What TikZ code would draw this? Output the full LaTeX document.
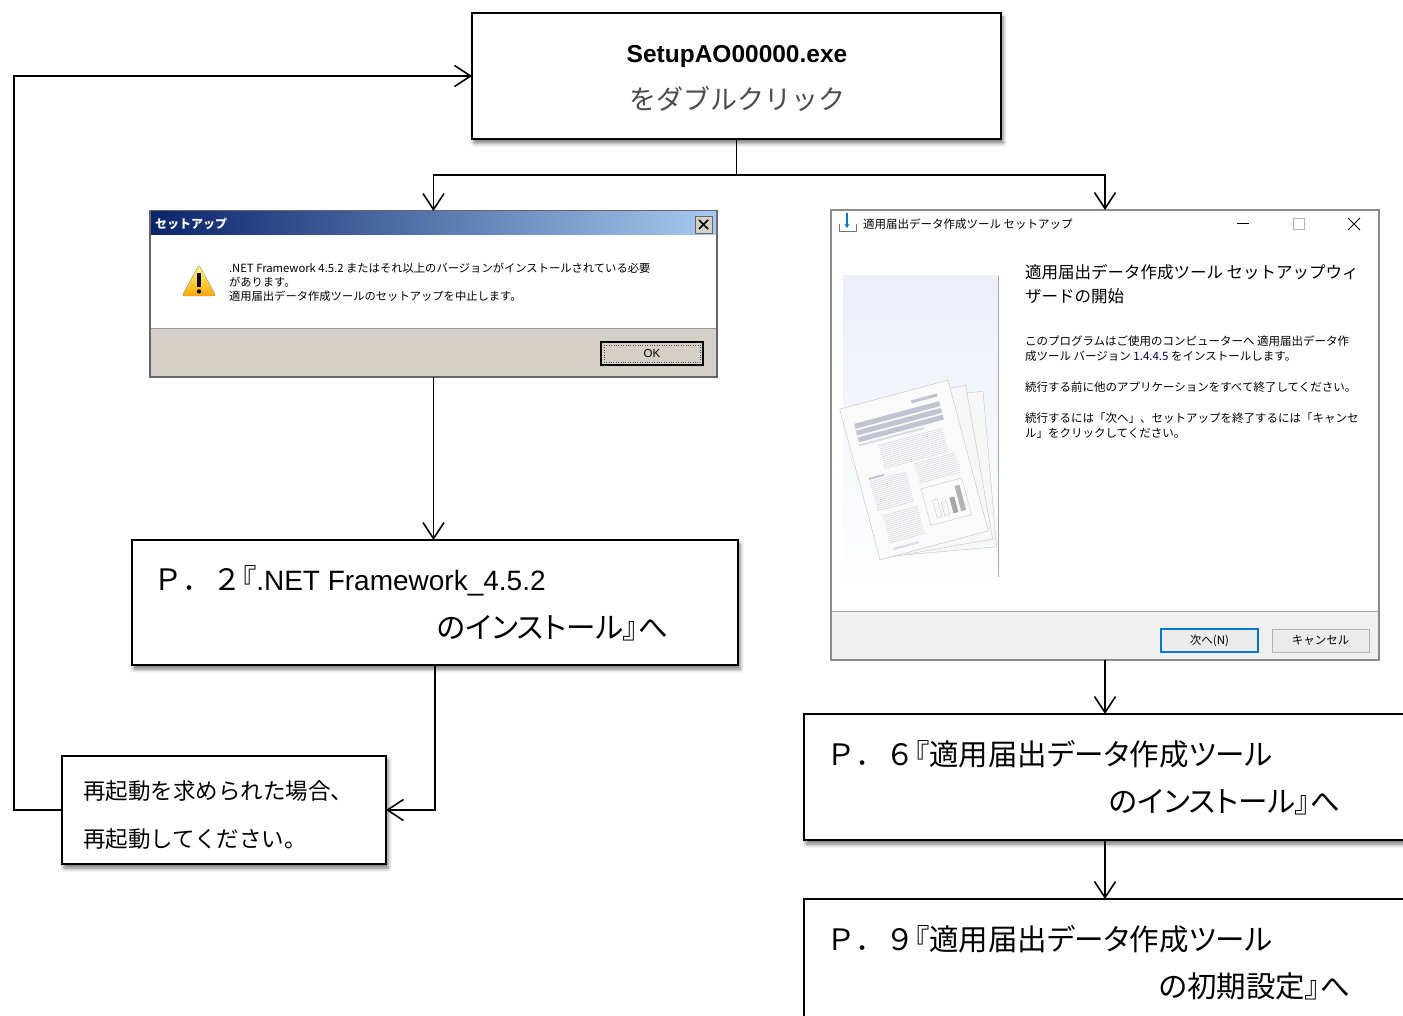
\documentclass[tikz,border=0pt]{standalone}
\usepackage{fontspec}
\setmainfont{Liberation Sans}
\newfontfamily\jp{Noto Sans CJK JP}
\newfontfamily\jpp{Noto Sans CJK JP}[RawFeature=+palt]
\usetikzlibrary{arrows.meta,shadows.blur}

\definecolor{xpblue}{HTML}{0A246A}
\definecolor{xplight}{HTML}{A6CAF0}
\definecolor{xpface}{HTML}{D4D0C8}
\definecolor{winface}{HTML}{F0F0F0}
\definecolor{winblue}{HTML}{0078D7}
\definecolor{paperline}{HTML}{D2D2DC}
\definecolor{paperbar}{HTML}{C2C2D0}
\definecolor{panel}{HTML}{ECEEF8}

% page number prefix in full width, then a tight bracket
\newcommand{\pagelead}[1]{{\jp Ｐ．#1}『}

\begin{document}
\begin{tikzpicture}[x=1pt, y=-1pt,
    every node/.style={inner sep=0pt, outer sep=0pt},
    flowbox/.style={draw, line width=1.8pt, fill=white, anchor=north west,
      blur shadow={shadow xshift=2pt, shadow yshift=-4pt, shadow blur radius=4pt, shadow opacity=55}},
    wire/.style={line width=1.6pt},
    link/.style={wire, -{Straight Barb[length=16pt, width=21pt]}},
    big/.style={font=\jpp\fontsize{29.5}{34}\selectfont},
    dlgtext/.style={anchor=west, font=\jp\fontsize{11.5}{14}\selectfont},
    xptext/.style={anchor=west, font=\jp\fontsize{11.3}{12}\selectfont},
    pline/.style={paperline, line width=.5pt},
  ]
  \useasboundingbox (0,0) rectangle (1403,1016);
  \clip (0,0) rectangle (1403,1016);

  % flow boxes
  \node[flowbox, minimum width=529pt, minimum height=126pt] (setup) at (472,13) {};
  \node[flowbox, minimum width=606pt, minimum height=125pt] (p2) at (132,540) {};
  \node[flowbox, minimum width=324pt, minimum height=108pt] (restart) at (62,756) {};
  \node[flowbox, minimum width=650pt, minimum height=126pt] (p6) at (804,714) {};
  \node[flowbox, minimum width=650pt, minimum height=160pt] (p9) at (804,899) {};

  \node[anchor=base, font=\bfseries\fontsize{24.5}{28}\selectfont] at (737,63) {SetupAO00000.exe};
  \node[anchor=base, text=black!70, font=\jp\fontsize{27}{30}\selectfont] at (737,110) {をダブルクリック};

  \node[big, anchor=base west] at (153,590) {\pagelead{２}{\rmfamily\fontsize{28}{34}\selectfont .NET Framework\_4.5.2}};
  \node[big, anchor=base east] at (668,638) {のインストール』へ};

  \node[anchor=base west, font=\jp\fontsize{22.5}{26}\selectfont] at (83,799) {再起動を求められた場合、};
  \node[anchor=base west, font=\jp\fontsize{22.5}{26}\selectfont] at (83,847) {再起動してください。};

  \node[big, anchor=base west] at (826,765) {\pagelead{６}適用届出データ作成ツール};
  \node[big, anchor=base east] at (1340,812) {のインストール』へ};
  \node[big, anchor=base west] at (826,950) {\pagelead{９}適用届出データ作成ツール};
  \node[big, anchor=base east] at (1350,997) {の初期設定』へ};

  % old style error dialog
  \node[anchor=north west, minimum width=567pt, minimum height=166pt,
    draw=black!60, line width=1.5pt, fill=xpface] (errdlg) at (150,211) {};
  \shade[left color=xpblue, right color=xplight] (151,212) rectangle (716,235);
  \node[anchor=west, text=white, font=\jp\bfseries\fontsize{12}{12}\selectfont] at (155,224) {セットアップ};
  \draw[fill=xpface, draw=black!60] (695,216) rectangle (712,233);
  \draw[line width=1.6pt] (699,220) -- (708,229) (699,229) -- (708,220);
  \fill[white] (151,235) rectangle (716,328);
  \draw[black!40] (151,328) -- (716,328);
  % warning sign
  \draw[rounded corners=2.5pt, draw=black!45, top color=yellow!55, bottom color=orange!70!yellow]
    (199,265) -- (216,296) -- (182,296) -- cycle;
  \fill (197,273) rectangle (201,287);
  \fill (199,291.5) circle (2.2);
  \node[xptext] at (229,268) {.NET Framework 4.5.2 またはそれ以上のバージョンがインストールされている必要};
  \node[xptext] at (229,282) {があります。};
  \node[xptext] at (229,296) {適用届出データ作成ツールのセットアップを中止します。};
  \draw[fill=xpface, line width=1.2pt] (601,342) rectangle (703,365);
  \draw[dotted, black!70] (604,345) rectangle (700,362);
  \node[font=\fontsize{11.5}{11}\selectfont] at (652,353.5) {OK};

  % setup wizard window
  \node[anchor=north west, minimum width=548pt, minimum height=450pt,
    draw=black!45, line width=1.5pt, fill=white] (windlg) at (831,210) {};
  \draw[black!55, line width=.8pt] (839,224) -- (839,231) -- (856,231) -- (856,224);
  \draw[winblue, line width=1.2pt, -{Stealth[length=4pt, width=5pt]}] (847,213) -- (847,228);
  \node[anchor=west, font=\jp\fontsize{11.5}{12}\selectfont] at (863,224) {適用届出データ作成ツール セットアップ};
  \draw[line width=.8pt] (1237,223) -- (1249,223);
  \draw[black!30, line width=.8pt] (1293,218) rectangle (1304,229);
  \draw[line width=.9pt] (1348,218) -- (1360,230) (1348,230) -- (1360,218);
  \shade[top color=panel, bottom color=white] (843,276) rectangle (998,592);
  \draw[black!35] (998,276) -- (998,577);

  % stack of sheets
  \begin{scope}[shift={(934,474)}, rotate=5]
    \draw[black!25, fill=black!3] (-56,-78) rectangle (56,78);
  \end{scope}
  \begin{scope}[shift={(924,472)}, rotate=10]
    \draw[black!25, fill=black!3] (-56,-78) rectangle (56,78);
  \end{scope}
  \begin{scope}[shift={(914,470)}, rotate=15]
    \draw[black!25, fill=black!2] (-56,-78) rectangle (56,78);
    \fill[paperbar] (15,-68) rectangle (42,-65);
    \fill[paperbar] (-46,-60) rectangle (42,-55);
    \fill[paperbar] (-46,-53) rectangle (42,-48);
    \fill[paperbar] (-46,-46) rectangle (42,-41);
    \fill[paperbar!60] (-46,-39) rectangle (20,-37);
    \foreach \y in {-33,-31,...,-9} \draw[pline] (-28,\y) -- (38,\y);
    \fill[paperbar] (-46,-4) rectangle (-30,-2);
    \foreach \y in {0,2,...,30} \draw[pline] (-46,\y) -- (-8,\y);
    \foreach \y in {-6,-4,...,14} \draw[pline] (2,\y) -- (44,\y);
    \draw[paperbar] (2,20) rectangle (44,58);
    \draw[paperbar] (10,52) rectangle (15,34);
    \draw[paperbar] (18,52) rectangle (23,38);
    \fill[black!35] (27,52) rectangle (32,36);
    \fill[black!30] (35,52) rectangle (40,26);
    \foreach \y in {36,38,...,64} \draw[pline] (-42,\y) -- (-6,\y);
    \fill[paperbar!60] (-40,70) rectangle (-14,72);
  \end{scope}

  \node[anchor=west, font=\jp\fontsize{16.5}{20}\selectfont] at (1025,272) {適用届出データ作成ツール セットアップウィ};
  \node[anchor=west, font=\jp\fontsize{16.5}{20}\selectfont] at (1025,296) {ザードの開始};
  \node[dlgtext] at (1025,341) {このプログラムはご使用のコンピューターへ 適用届出データ作};
  \node[dlgtext] at (1025,356) {成ツール バージョン {\color{black!70!blue}1.4.4.5} をインストールします。};
  \node[dlgtext] at (1025,387) {続行する前に他のアプリケーションをすべて終了してください。};
  \node[dlgtext] at (1025,418) {続行するには「次へ」、セットアップを終了するには「キャンセ};
  \node[dlgtext] at (1025,433) {ル」をクリックしてください。};

  \fill[winface] (832,611) rectangle (1378,659);
  \draw[black!35] (832,611) -- (1378,611);
  \draw[winblue, line width=1.3pt, fill=black!8] (1161,629) rectangle (1258,652);
  \node[font=\jp\fontsize{11.5}{12}\selectfont] at (1209.5,640.5) {次へ(N)};
  \draw[black!30, fill=black!8] (1272,629) rectangle (1369,652);
  \node[font=\jp\fontsize{11.5}{12}\selectfont] at (1320.5,640.5) {キャンセル};

  % connectors
  \draw[wire] (setup.south) -- ++(0,36) coordinate (fork);
  \draw[link] (fork) -| (errdlg.north);
  \draw[link] (fork) -| (windlg.north);
  \draw[link] (errdlg.south) -- (errdlg.south |- p2.north);
  \draw[link] (p2.south) |- (restart.east);
  \draw[link] (restart.west) -- ++(-48,0) |- (setup.west);
  \draw[link] (windlg.south) -- (windlg.south |- p6.north);
  \draw[link] (windlg.south |- p6.south) -- (windlg.south |- p9.north);
\end{tikzpicture}
\end{document}
